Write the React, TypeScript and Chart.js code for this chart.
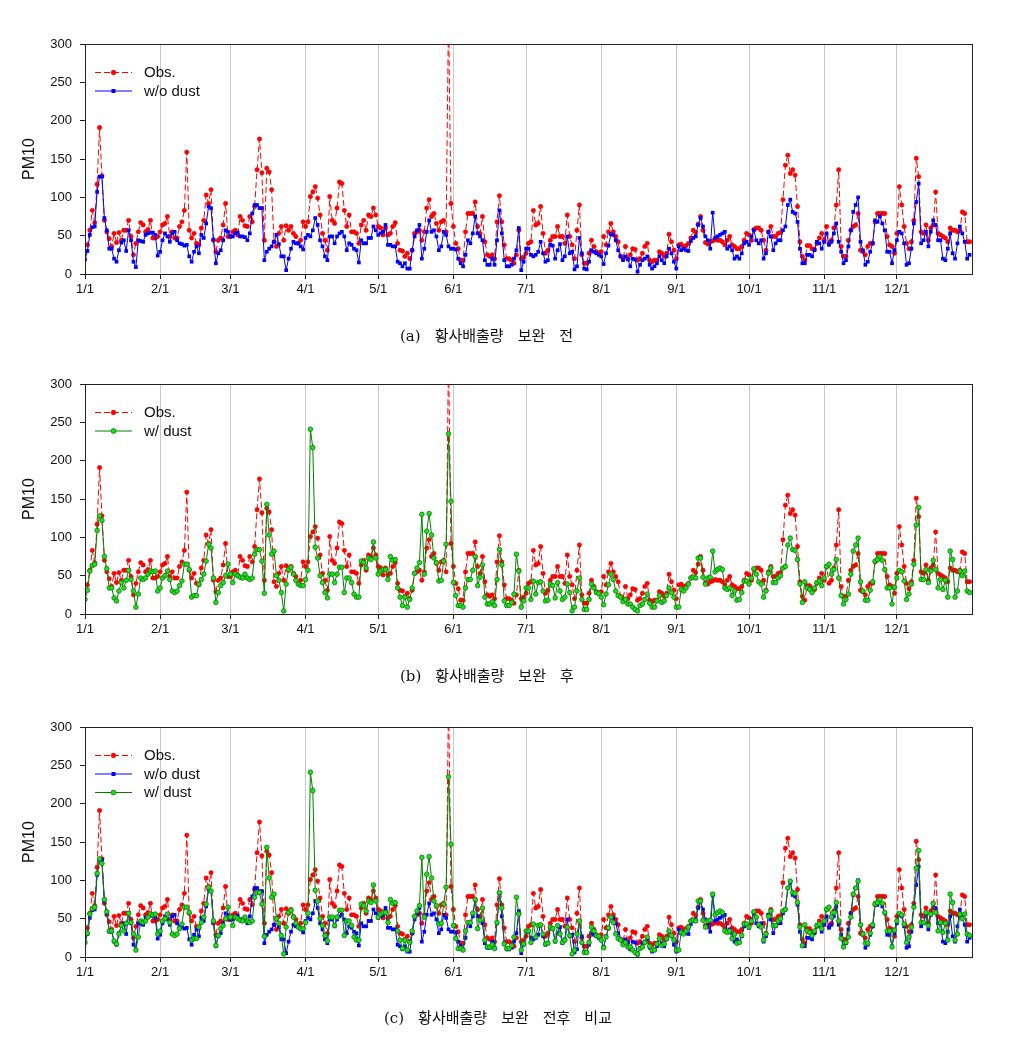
import React, { useEffect, useRef } from 'react';
import { Chart, registerables } from 'chart.js';

Chart.register(...registerables);

// Day-of-year index (0 = 1/1, leap year, 366 days)
const monthStartDays = [0, 31, 60, 91, 121, 152, 182, 213, 244, 274, 305, 335];
const monthLabels = ['1/1', '2/1', '3/1', '4/1', '5/1', '6/1', '7/1', '8/1', '9/1', '10/1', '11/1', '12/1'];
const dayCount = 366;
const yMin = 0;
const yMax = 300;
const yStep = 50;

const obs = [
  38, 38, 57, 83, 67, 117, 191, 128, 70, 55,
  46, 36, 53, 41, 54, 44, 57, 57, 70, 49,
  25, 40, 55, 67, 64, 55, 58, 70, 47, 47,
  49, 55, 64, 66, 75, 49, 55, 47, 47, 62,
  68, 83, 159, 57, 47, 53, 40, 38, 60, 70,
  103, 92, 110, 44, 29, 44, 47, 64, 92, 49,
  49, 55, 57, 51, 75, 70, 63, 62, 75, 68,
  88, 136, 176, 132, 44, 138, 133, 110, 42, 36,
  53, 62, 44, 63, 57, 62, 53, 49, 40, 44,
  68, 62, 68, 101, 107, 114, 99, 77, 53, 44,
  31, 101, 70, 66, 86, 120, 118, 83, 62, 77,
  55, 55, 53, 40, 64, 70, 57, 77, 75, 86,
  77, 62, 60, 51, 60, 51, 53, 62, 67, 40,
  31, 30, 23, 27, 20, 31, 53, 55, 57, 44,
  55, 86, 97, 75, 79, 66, 57, 68, 70, 55,
  340, 92, 62, 40, 33, 18, 18, 55, 79, 79,
  79, 94, 62, 53, 75, 42, 25, 23, 25, 20,
  68, 102, 68, 38, 20, 20, 18, 14, 25, 57,
  20, 22, 27, 40, 42, 83, 64, 66, 88, 53,
  27, 31, 44, 49, 49, 62, 49, 49, 40, 77,
  49, 38, 20, 57, 90, 25, 14, 14, 27, 44,
  36, 29, 27, 29, 49, 38, 55, 66, 55, 49,
  42, 23, 20, 36, 20, 25, 33, 32, 18, 20,
  27, 36, 40, 18, 16, 18, 18, 29, 27, 23,
  27, 52, 42, 31, 20, 38, 39, 36, 37, 40,
  47, 57, 54, 65, 75, 57, 41, 39, 42, 43,
  45, 44, 44, 42, 38, 44, 49, 38, 36, 33,
  33, 36, 44, 53, 51, 44, 58, 60, 60, 57,
  44, 31, 55, 62, 49, 49, 53, 54, 97, 142,
  155, 131, 136, 129, 88, 42, 23, 18, 37, 37,
  33, 32, 40, 47, 53, 44, 62, 40, 44, 60,
  90, 136, 36, 23, 23, 44, 57, 62, 64, 79,
  31, 29, 25, 36, 40, 40, 68, 79, 79, 79,
  79, 49, 38, 36, 27, 53, 114, 90, 62, 40,
  33, 42, 70, 151, 127, 55, 53, 64, 44, 60,
  64, 107, 53, 51, 49, 47, 42, 60, 57, 57,
  55, 57, 81, 79, 42, 42,
];

const woDust = [
  19, 30, 51, 61, 62, 107, 127, 127, 73, 57,
  33, 33, 20, 16, 31, 41, 44, 30, 57, 44,
  16, 9, 44, 43, 42, 51, 53, 54, 54, 51,
  24, 29, 44, 53, 49, 42, 53, 55, 44, 40,
  39, 37, 38, 23, 16, 29, 36, 27, 51, 47,
  66, 88, 86, 45, 14, 27, 31, 44, 57, 55,
  49, 49, 53, 54, 49, 49, 48, 44, 53, 79,
  90, 90, 86, 86, 18, 29, 33, 36, 42, 51,
  39, 23, 23, 5, 20, 33, 42, 40, 40, 36,
  32, 47, 51, 49, 57, 73, 64, 44, 36, 23,
  18, 49, 49, 40, 49, 53, 55, 49, 31, 40,
  38, 33, 31, 15, 44, 40, 40, 47, 47, 62,
  57, 51, 53, 55, 64, 38, 38, 36, 36, 16,
  14, 10, 14, 7, 7, 31, 49, 57, 64, 20,
  33, 55, 70, 55, 57, 49, 31, 36, 55, 51,
  36, 33, 33, 32, 20, 14, 10, 25, 44, 40,
  53, 75, 53, 49, 44, 18, 12, 12, 20, 12,
  44, 83, 53, 18, 10, 10, 12, 20, 31, 60,
  5, 16, 33, 33, 25, 23, 25, 29, 42, 27,
  16, 18, 38, 37, 20, 31, 39, 18, 23, 49,
  27, 29, 6, 10, 47, 27, 7, 6, 16, 31,
  29, 27, 25, 23, 13, 27, 37, 52, 51, 44,
  31, 23, 18, 23, 19, 10, 20, 19, 3, 12,
  18, 20, 23, 12, 7, 10, 14, 23, 18, 14,
  23, 33, 27, 16, 7, 36, 31, 33, 31, 30,
  43, 47, 49, 64, 73, 62, 49, 44, 33, 80,
  47, 49, 51, 53, 55, 33, 36, 31, 20, 23,
  20, 27, 40, 42, 38, 49, 57, 44, 40, 44,
  20, 27, 55, 49, 31, 40, 44, 44, 57, 62,
  90, 97, 81, 79, 68, 33, 14, 14, 25, 25,
  23, 31, 42, 40, 33, 42, 53, 38, 42, 53,
  66, 42, 29, 14, 18, 36, 57, 81, 90, 100,
  42, 31, 12, 16, 29, 40, 70, 68, 75, 66,
  57, 29, 29, 14, 31, 44, 55, 53, 40, 12,
  14, 33, 66, 94, 118, 40, 44, 55, 36, 55,
  70, 64, 44, 44, 20, 18, 33, 53, 27, 20,
  40, 62, 53, 42, 20, 25,
];

const wDust = [
  19, 31, 56, 63, 65, 109, 128, 122, 75, 59,
  34, 34, 21, 17, 30, 41, 34, 44, 57, 45,
  30, 9, 26, 47, 45, 47, 52, 56, 55, 56,
  30, 34, 47, 50, 56, 45, 30, 28, 30, 37,
  43, 65, 65, 58, 22, 24, 24, 39, 45, 52,
  69, 91, 86, 47, 15, 28, 37, 41, 50, 65,
  52, 41, 52, 50, 48, 47, 52, 47, 45, 47,
  78, 84, 84, 69, 27, 143, 103, 78, 82, 50,
  44, 28, 4, 39, 58, 61, 52, 44, 39, 37,
  37, 45, 57, 241, 217, 87, 73, 50, 41, 28,
  21, 52, 52, 41, 52, 61, 61, 28, 47, 47,
  41, 26, 22, 22, 69, 67, 60, 73, 71, 94,
  73, 52, 56, 58, 58, 45, 75, 70, 71, 34,
  22, 11, 22, 9, 19, 34, 53, 60, 67, 130,
  52, 108, 131, 103, 73, 67, 43, 44, 69, 91,
  235, 147, 41, 24, 11, 11, 9, 34, 45, 45,
  57, 75, 37, 48, 64, 22, 13, 13, 16, 11,
  45, 84, 64, 17, 11, 11, 15, 26, 78, 56,
  9, 17, 34, 34, 19, 43, 26, 41, 42, 30,
  17, 18, 39, 37, 21, 41, 30, 19, 22, 39,
  28, 4, 9, 30, 47, 19, 6, 6, 19, 39,
  34, 28, 27, 22, 12, 26, 38, 52, 45, 30,
  24, 22, 16, 19, 13, 13, 9, 6, 4, 11,
  13, 19, 26, 14, 9, 9, 17, 24, 15, 17,
  24, 34, 28, 22, 9, 9, 32, 30, 34, 39,
  47, 48, 47, 73, 73, 48, 39, 47, 48, 82,
  55, 58, 60, 58, 34, 32, 34, 24, 30, 18,
  19, 28, 43, 43, 39, 47, 59, 52, 42, 39,
  22, 30, 53, 60, 41, 41, 47, 50, 60, 62,
  90, 99, 84, 83, 71, 39, 15, 42, 34, 32,
  28, 34, 41, 43, 37, 47, 62, 65, 52, 58,
  71, 47, 24, 13, 19, 26, 52, 82, 90, 99,
  42, 30, 18, 18, 31, 42, 69, 71, 75, 70,
  58, 34, 34, 13, 35, 47, 57, 55, 43, 19,
  26, 39, 65, 116, 139, 45, 45, 58, 41, 56,
  70, 58, 34, 45, 32, 44, 22, 82, 71, 22,
  30, 56, 50, 56, 30, 28,
];

const seriesLabels = { obs: 'Obs.', wo: 'w/o dust', w: 'w/ dust' };
const captionWords = [
  ['(a)', '황사배출량', '보완', '전'],
  ['(b)', '황사배출량', '보완', '후'],
  ['(c)', '황사배출량', '보완', '전후', '비교'],
];

type Key = 'obs' | 'wo' | 'w';

const FONT = '"Liberation Sans", Arial, sans-serif';

function makeDataset(key: Key) {
  const toPts = (arr: number[]) => arr.map((v, i) => ({ x: i, y: v }));
  if (key === 'obs') {
    return {
      label: seriesLabels.obs,
      data: toPts(obs),
      borderColor: '#ff0000',
      backgroundColor: '#ff0000',
      borderWidth: 1,
      borderDash: [6, 3],
      pointStyle: 'circle',
      pointRadius: 2.2,
      pointBorderWidth: 0.5,
      pointBackgroundColor: '#ff0000',
      pointBorderColor: '#ee0000',
      order: 3,
    };
  }
  if (key === 'wo') {
    return {
      label: seriesLabels.wo,
      data: toPts(woDust),
      borderColor: '#0000ff',
      backgroundColor: '#0000ff',
      borderWidth: 1,
      pointStyle: 'rect',
      pointRadius: 2.6,
      pointBorderWidth: 0,
      pointBackgroundColor: '#0000ff',
      pointBorderColor: '#0000ff',
      order: 2,
    };
  }
  return {
    label: seriesLabels.w,
    data: toPts(wDust),
    borderColor: '#008000',
    backgroundColor: '#22dd22',
    borderWidth: 1,
    pointStyle: 'circle',
    pointRadius: 2.3,
    pointBorderWidth: 0.8,
    pointBackgroundColor: '#22dd22',
    pointBorderColor: '#008000',
    order: 1,
  };
}

const framePlugin = {
  id: 'frameBox',
  afterDraw(chart: any) {
    const { ctx, chartArea } = chart;
    const l = Math.round(chartArea.left) + 0.5;
    const t = Math.round(chartArea.top) + 0.5;
    const r = Math.round(chartArea.right) + 0.5;
    const b = Math.round(chartArea.bottom) + 0.5;
    ctx.save();
    ctx.strokeStyle = '#222';
    ctx.lineWidth = 1;
    ctx.strokeRect(l, t, r - l, b - t);
    ctx.restore();
  },
};

const insideLegendPlugin = {
  id: 'insideLegend',
  afterDraw(chart: any) {
    const { ctx, chartArea } = chart;
    const x0 = chartArea.left + 10;
    const x1 = chartArea.left + 47;
    const xm = (x0 + x1) / 2;
    const tx = chartArea.left + 59;
    let y = chartArea.top + 28;
    ctx.save();
    chart.data.datasets.forEach((ds: any) => {
      ctx.beginPath();
      ctx.setLineDash(ds.borderDash || []);
      ctx.strokeStyle = ds.borderColor;
      ctx.lineWidth = 1;
      ctx.moveTo(x0, y + 0.5);
      ctx.lineTo(x1, y + 0.5);
      ctx.stroke();
      ctx.setLineDash([]);
      ctx.fillStyle = ds.pointBackgroundColor;
      ctx.strokeStyle = ds.pointBorderColor;
      if (ds.pointStyle === 'rect') {
        ctx.fillRect(xm - 2, y - 1.5, 4, 4);
      } else {
        ctx.beginPath();
        ctx.arc(xm, y + 0.5, 2.4, 0, Math.PI * 2);
        ctx.fill();
        ctx.lineWidth = ds.pointBorderWidth || 0.5;
        ctx.stroke();
      }
      ctx.fillStyle = '#111';
      ctx.font = `15px ${FONT}`;
      ctx.textBaseline = 'middle';
      ctx.textAlign = 'left';
      ctx.fillText(ds.label, tx, y + 1);
      y += 18.5;
    });
    ctx.restore();
  },
};

function Panel({ keys, top }: { keys: Key[]; top: number }) {
  const ref = useRef<HTMLCanvasElement | null>(null);
  useEffect(() => {
    if (!ref.current) return;
    const chart = new Chart(ref.current, {
      type: 'line',
      data: { datasets: keys.map(makeDataset) as any },
      plugins: [framePlugin, insideLegendPlugin],
      options: {
        animation: false,
        responsive: false,
        events: [],
        layout: { padding: { left: 0, right: 44, top: 44, bottom: 42 } },
        plugins: { legend: { display: false }, tooltip: { enabled: false } },
        elements: { line: { tension: 0 } },
        scales: {
          x: {
            type: 'linear',
            min: 0,
            max: dayCount,
            afterBuildTicks: (scale: any) => {
              scale.ticks = monthStartDays.map((d) => ({ value: d }));
            },
            afterFit: (scale: any) => {
              scale.height = 24;
            },
            ticks: {
              autoSkip: false,
              maxRotation: 0,
              padding: 3,
              color: '#111',
              font: { family: FONT, size: 13 },
              callback: (v: any) => {
                const idx = monthStartDays.indexOf(Number(v));
                return idx >= 0 ? monthLabels[idx] : '';
              },
            },
            grid: {
              color: '#c8c8c8',
              lineWidth: 1,
              tickColor: '#222',
              tickLength: 5,
              drawOnChartArea: true,
            },
            border: { display: true, color: '#222' },
          },
          y: {
            type: 'linear',
            min: yMin,
            max: yMax,
            afterFit: (scale: any) => {
              scale.width = 85;
            },
            ticks: {
              stepSize: yStep,
              padding: 8,
              color: '#111',
              font: { family: FONT, size: 13 },
            },
            grid: {
              drawOnChartArea: false,
              tickColor: '#222',
              tickLength: 5,
            },
            border: { display: true, color: '#222' },
            title: {
              display: true,
              text: 'PM10',
              color: '#111',
              font: { family: FONT, size: 16 },
              padding: { top: 20, bottom: 0 },
            },
          },
        },
      } as any,
    });
    return () => chart.destroy();
  }, []);
  return (
    <canvas
      ref={ref}
      width={1016}
      height={340}
      style={{ position: 'absolute', left: 0, top, width: 1016, height: 340 }}
    />
  );
}

function Caption({ words, centerY, left }: { words: string[]; centerY: number; left: number }) {
  return (
    <div
      style={{
        position: 'absolute',
        left,
        top: centerY - 10,
        height: 20,
        lineHeight: '20px',
        fontSize: 15,
        fontFamily: '"DejaVu Serif", "Noto Sans CJK KR", serif',
        color: '#111',
        display: 'flex',
        gap: 14,
        whiteSpace: 'nowrap',
      }}
    >
      {words.map((w, i) => (
        <span key={i}>{w}</span>
      ))}
    </div>
  );
}

export default function App() {
  return (
    <div style={{ position: 'absolute', left: 0, top: 0, width: 1016, height: 1050, background: '#fff' }}>
      <Panel keys={['obs', 'wo']} top={0} />
      <Caption words={captionWords[0]} centerY={336} left={400} />
      <Panel keys={['obs', 'w']} top={340} />
      <Caption words={captionWords[1]} centerY={676} left={400} />
      <Panel keys={['obs', 'wo', 'w']} top={683} />
      <Caption words={captionWords[2]} centerY={1018} left={384} />
    </div>
  );
}
